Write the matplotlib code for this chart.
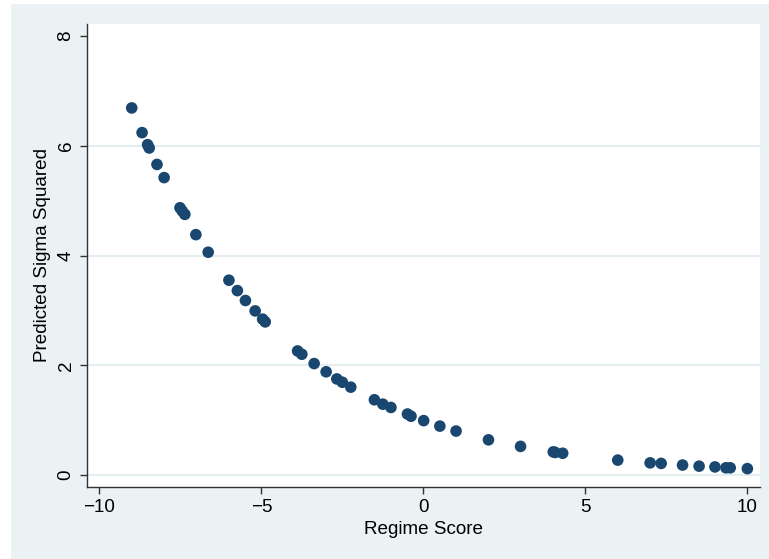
import matplotlib
matplotlib.use("Agg")
import matplotlib.pyplot as plt
from matplotlib.patches import Rectangle

# ==========================================
# DATA
# ==========================================

regime_score = [
    -9.0, -8.68, -8.51, -8.46, -8.22, -8.0, -7.51, -7.44, -7.36, -7.02,
    -6.64, -6.0, -5.74, -5.49, -5.19, -4.96, -4.88, -3.88, -3.75, -3.37,
    -3.0, -2.67, -2.50, -2.24, -1.51, -1.25, -1.0, -0.49, -0.38, 0.01,
    0.51, 1.01, 2.01, 3.0, 4.01, 4.07, 4.30, 6.0, 7.0, 7.34,
    8.0, 8.51, 9.0, 9.34, 9.47, 10.0,
]

sigma_sq = [
    6.69, 6.24, 6.02, 5.96, 5.66, 5.42, 4.87, 4.81, 4.75, 4.38,
    4.06, 3.55, 3.36, 3.18, 2.99, 2.84, 2.79, 2.26, 2.20, 2.03,
    1.88, 1.75, 1.69, 1.60, 1.37, 1.29, 1.23, 1.11, 1.07, 0.99,
    0.89, 0.80, 0.64, 0.52, 0.42, 0.41, 0.395, 0.27, 0.22, 0.21,
    0.18, 0.16, 0.146, 0.13, 0.13, 0.115,
]

x_ticks = [-10, -5, 0, 5, 10]
x_tick_labels = ["\u221210", "\u22125", "0", "5", "10"]
y_ticks = [0, 2, 4, 6, 8]

# ==========================================
# STYLE
# ==========================================

BG = "#EAF2F3"
NAVY = "#1A476F"
AXIS = "#333333"

plt.rcParams["font.family"] = ["Liberation Sans", "DejaVu Sans"]

fig = plt.figure(figsize=(7.69, 5.59), dpi=100, facecolor="white")

# outer light panel of the graph region
panel = Rectangle((11 / 769, 0), 1 - 11 / 769, 1 - 4 / 559,
                  transform=fig.transFigure, facecolor=BG, edgecolor="none")
panel.set_zorder(-10)
fig.add_artist(panel)

ax = fig.add_axes([87 / 769, 1 - 487 / 559, (760 - 87) / 769, (487 - 24) / 559])
ax.set_zorder(1)
ax.set_facecolor("white")

# ==========================================
# PLOT
# ==========================================

ax.scatter(regime_score, sigma_sq, s=70, color=NAVY, edgecolors="none", zorder=3)

ax.set_xlim(-10.38, 10.39)
ax.set_ylim(-0.22, 8.22)

ax.set_xticks(x_ticks)
ax.set_xticklabels(x_tick_labels)
ax.set_yticks(y_ticks)

for yv in y_ticks[:-1]:
    ax.axhline(yv, color="#E4EEF0", linewidth=1.6, zorder=1)

for side in ["top", "right"]:
    ax.spines[side].set_visible(False)
for side in ["left", "bottom"]:
    ax.spines[side].set_color(AXIS)
    ax.spines[side].set_linewidth(1.0)

ax.tick_params(axis="both", direction="out", length=5, width=1.0,
               color=AXIS, labelsize=13.6, labelcolor="black", pad=4)
plt.setp(ax.get_yticklabels(), rotation=90, va="center")

ax.set_xlabel("Regime Score", fontsize=13.6, labelpad=3)
ax.set_ylabel("Predicted Sigma Squared", fontsize=13.6, labelpad=5)

fig.savefig("out.png", dpi=100, facecolor=fig.get_facecolor())
